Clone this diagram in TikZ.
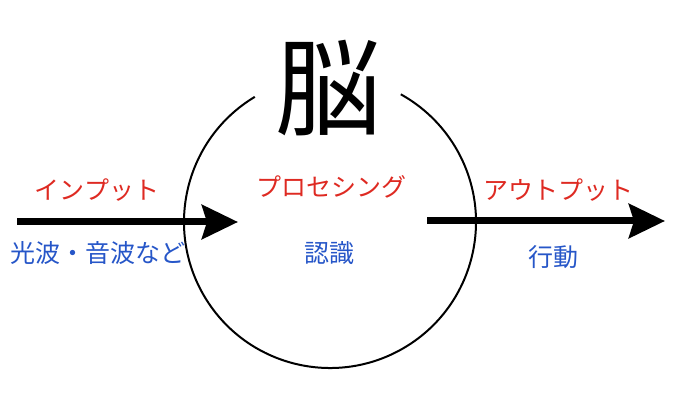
\documentclass[tikz,border=0pt]{standalone}
\usepackage{fontspec}
\newfontfamily\jpfont{Noto Sans CJK JP}
\usepackage{xcolor}
\usepackage{tikz}
\usetikzlibrary{positioning, arrows.meta}
\definecolor{labelred}{RGB}{222,42,34}
\definecolor{labelblue}{RGB}{38,86,200}

\begin{document}
\begin{tikzpicture}[
    x=1pt, y=1pt,
    lbl/.style={inner sep=0pt, font=\jpfont\fontsize{25}{30}\selectfont},
    stage/.style={lbl, text=labelred},
    detail/.style={lbl, text=labelblue},
    flow/.style={-{Stealth[length=36pt, width=34pt, inset=5pt]}, line width=7pt, black},
]
    \useasboundingbox (0,0) rectangle (680,410);

    % the brain, open at the top for its title
    \coordinate (brainc) at (330,188);
    \draw[line width=2pt] (brainc) ++(121:146) arc[start angle=121, end angle=421, radius=146];
    \node[inner sep=0pt, font=\jpfont\fontsize{106}{110}\selectfont] (brain) at (328,322) {脳};

    \coordinate (in-start)  at (17,188);
    \coordinate (in-end)    at (238,188);
    \coordinate (out-start) at (427,189);
    \coordinate (out-end)   at (665,189);
    \draw[flow] (in-start) -- (in-end);
    \draw[flow] (out-start) -- (out-end);

    \node[stage]  (input)   at (97,220)  {インプット};
    \node[detail] (stimuli) at (98,157)  {光波・音波など};
    \node[stage]  (proc)    at (331,223) {プロセシング};
    \node[detail] (cognit)  at (329,157) {認識};
    \node[stage]  (output)  at (558,220) {アウトプット};
    \node[detail] (action)  at (553,153) {行動};
\end{tikzpicture}
\end{document}
